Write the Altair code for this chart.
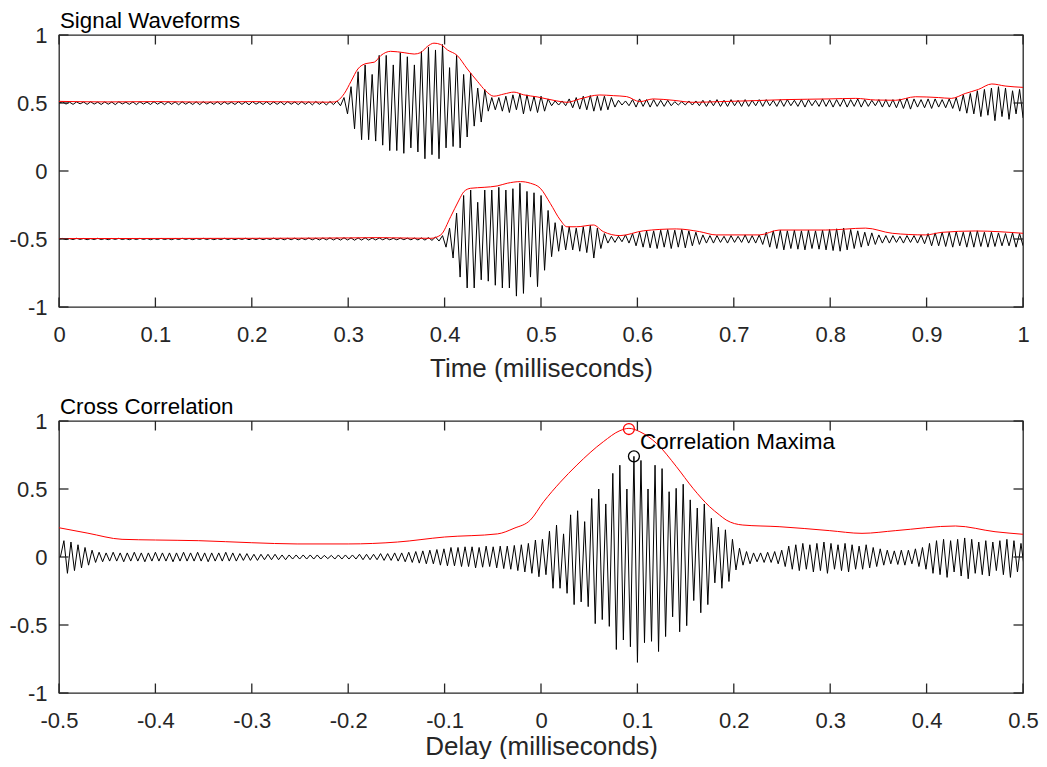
import altair as alt
import numpy as np
import pandas as pd

FONT = "Liberation Sans, Arial, Helvetica, sans-serif"
AX = "#262626"
HALF = 0.00365          # half period of the carrier (ms) = spacing of the listed extremes
CC_START = -0.49855     # delay of the first listed cross-correlation extreme
W, HT = 964, 272
TL = 9.5

# ---------------- Signal 1 (baseline 0.5), extremes in hundredths ----------------
s1_quiet = [0, 0.8, -0.8, 0.6, -1.0, 0.8, -0.6, 0.7, -1.0, 0.9, -0.8,
            0.6, -1.1, 0.8, -0.9, 0.7, -1.2, 0.9, -0.7, 0.6, -1.0,
            0.8, -1.2, 0.9, -0.8, 0.7, -1.1, 1.0, -0.9, 0.7, -1.2,
            0.9, -1.0, 0.8, -1.3, 0.9, -0.9, 0.7, -1.1, 0.9, -1.2,
            1.0, -0.8, 0.7, -1.0, 0.9, -1.2, 0.8, -0.9, 0.6, -1.1,
            0.9, -1.0, 0.8, -1.3, 1.0, -0.9, 0.7, -1.1, 0.9, -1.2,
            0.8, -1.0, 0.9, -1.3, 1.0, -0.9, 0.8, -1.2, 1.0, -1.0,
            0.9, -1.4, 1.1, -1.0, 0.9, -1.5, 1.2, -1.2, 1.5, -2.0, 4.0]
s1_burst = [-8, 12, -19, 23, -27, 28, -27, 21, -28, 35,
            -31, 35, -35, 28, -35, 37, -37, 34, -33, 28,
            -36, 38, -41, 41, -38, 39, -41, 43, -33, 26,
            -32, 35, -33, 21, -25, 22, -17, 11, -14, 10,
            -6, 4]
s1_tail = [-5, 4, -6, 5, -7, 6, -5, 7, -8, 6,
           -6, 5, -7, 5, -6, 3, -2, 1.5, -1.5, 1.5,
           -2, 3, -3.5, 4, -4.5, 5, -5, 5.5, -6, 5,
           -5.5, 5, -5, 4, -3, 2, -1.5, 1.5, -2, 2.5,
           -3, 3, -2.5, 2.5, -3, 2.5, -2.5, 2, -2.5, 2,
           -2, 1, -1.5, 1, -1.5, 1.5, -1.5, 1.5, -2, 2,
           -2.5, 2, -2, 2.5, -2.5, 2, -2.5, 2.5, -2, 2,
           -2.5, 2.5, -2.5, 2, -2, 2.5, -2.5, 2.5, -2, 2,
           -2.5, 2.5, -2.5, 2.5, -2, 2, -2.5, 2.5, -3, 2.5,
           -2, 2, -2.5, 3, -2.5, 2.5, -3, 2.5, -2.5, 3,
           -3, 2.5, -2.5, 3, -3, 2.5, -2.5, 2, -2, 2.5,
           -3, 2.5, -3, 2.5, -3.5, 3, -4, 3.5, -4.5, 3,
           -3, 2.5, -3.5, 3, -4, 3, -3, 2.5, -3.5, 3,
           -4, 4, -6, 6, -7.5, 7, -8, 9, -10, 10,
           -9, 11, -13, 12, -10, 11, -12, 9, -8, 10,
           -11]

# ---------------- Signal 2 (baseline -0.5), extremes in hundredths ----------------
s2_quiet = [0, 0.4, -0.5, 0.3, -0.4, 0.5, -0.3, 0.4, -0.5, 0.3,
            -0.4, 0.5, -0.4, 0.3, -0.5, 0.4, -0.3, 0.5, -0.4, 0.3,
            -0.5, 0.4, -0.4, 0.5, -0.3, 0.4, -0.5, 0.3, -0.4, 0.5,
            -0.4, 0.3, -0.5, 0.4, -0.4, 0.5, -0.3, 0.4, -0.5, 0.4,
            -0.3, 0.5, -0.4, 0.4, -0.5, 0.3, -0.4, 0.5, -0.4, 0.4,
            -0.5, 0.4, -0.3, 0.5, -0.5, 0.4, -0.4, 0.5, -0.5, 0.4,
            -0.4, 0.6, -0.5, 0.5, -0.6, 0.5, -0.5, 0.6, -0.6, 0.5,
            -0.5, 0.7, -0.6, 0.6, -0.7, 0.7, -0.6, 0.8, -0.7, 0.7,
            -0.8, 0.9, -0.7, 0.8, -0.9, 0.8, -0.8, 0.9, -0.8, 0.7,
            -0.7, 0.8, -0.6, 0.7, -0.6, 0.5, -0.6, 0.6, -0.5, 0.6,
            -0.6, 0.7, -0.7, 0.8, -0.8, 1.0, -1.0, 1.5, -1.5, 2.5]
s2_burst = [-6, 8, -14, 19, -28, 32, -36, 36, -36, 27,
            -30, 36, -31, 36, -34, 38, -36, 36, -36, 37,
            -42, 41, -40, 35, -28, 34, -35, 32, -23, 21,
            -13, 12, -9, 10, -8, 9, -8]
s2_tail = [8, -9, 9, -10, 10, -14, 8, -7, 4, -3,
           2, -2.5, 2, -2, 3, -3, 4, -5, 5, -6,
           6, -6.5, 6, -7, 6.5, -6, 7, -7, 6.5, -6,
           7, -6.5, 6, -5, 5, -4, 3, -3, 2.5, -3,
           2.5, -2.5, 2, -3, 2.5, -2.5, 2, -2.5, 3, -3,
           2.5, -3, 3, -4, 5, -6, 6, -7, 6.5, -8,
           6, -7, 6.5, -7.5, 6, -8, 6.5, -7, 6, -7.5,
           6.5, -8, 7, -8.5, 7.5, -9, 8, -8, 7, -7,
           6, -6, 5, -5, 4.5, -4, 3, -3, 2.5, -3,
           2.5, -2.5, 2, -3, 2.5, -2.5, 2.5, -3, 3, -3.5,
           4, -5, 4.5, -5, 5, -5.5, 5, -6, 5.5, -5,
           5, -6, 5.5, -6, 6, -5.5, 5, -6, 5, -5.5,
           4.5, -5, 4, -5, 4.5, -6, 4, -5]

# ---------------- Cross correlation, extremes in hundredths ----------------
cc_left = [0, 12, -12, 11, -10, 9, -8, 7, -6, 5,
           -4, 3.5, -3.5, 3, -3, 3.5, -3, 3, -3.5, 3,
           -3, 3.5, -3, 3, -3.5, 3, -3, 3.5, -3, 3,
           -3, 3, -3.5, 3, -3, 3.5, -3, 3, -3, 3.5,
           -3, 3, -3.5, 3, -3, 3, -3, 3.5, -3, 3,
           -3, 2.5, -2.5, 2.5, -2.5, 2, -2.5, 2, -2, 2,
           -2, 2, -2, 1.5, -2, 1.5, -1.5, 1.5, -1.5, 1.5,
           -1.5, 1.5, -1.5, 1.5, -1.5, 1.2, -1.2, 1.2, -1.5, 1.5,
           -1.5, 1.5, -1.5, 1.5, -1.5, 2, -2, 2, -2, 2,
           -2, 2.5, -2.5, 2.5, -2.5, 3, -3, 3, -3.5, 3.5,
           -4, 4, -4.5, 4.5, -5, 5, -5, 5.5, -6, 6,
           -6.5, 7, -6.5, 7, -7, 7.5, -7, 7.5, -8, 7,
           -7.5, 8, -7, 7.5, -8, 8, -8.5, 8, -9, 8.5,
           -10, 9, -11, 10, -12]
cc_burst = [12.5, -14.5, 13, -13, 19, -23, 23.5, -23, 17, -26.7,
            31, -35, 34, -33, 26, -36.5, 43, -49, 50, -46,
            39, -51, 61.5, -68, 67.5, -61, 50, -66, 74, -77.5,
            71, -63, 50, -62, 67.5, -69.5, 65, -58.5, 48, -44,
            50.5, -55, 53.5, -50.5, 42, -32, 36, -41, 39, -35,
            28.5, -19, 22, -23, 20, -18, 13, -9.5, 6.5]
cc_tail = [-6, 4, -5, 3, -3.5, 3, -4, 3.5, -4, 4,
           -5, 5, -7, 8, -9, 9, -10, 10, -9, 9,
           -11, 10, -10, 11, -12, 10, -9, 9, -10, 10,
           -11, 9, -9, 8, -9, 9, -8, 7, -7, 6,
           -6, 5, -5, 4.5, -5.5, 5, -6, 5, -5, 6,
           -7, 7, -9, 10, -12, 12, -13, 13, -15, 12,
           -11, 13, -14, 14, -16, 13, -12, 11, -13, 12,
           -14, 11, -10, 12, -13, 13, -15, 12, -11, 10,
           -9]

# ---------------- Envelopes ----------------
env1_t = [0, 0.05, 0.1, 0.15, 0.2, 0.25, 0.28, 0.286, 0.296, 0.303, 0.31, 0.3185, 0.327, 0.334,
          0.344, 0.358, 0.3685, 0.375, 0.382, 0.389, 0.396, 0.403, 0.413, 0.4236, 0.434, 0.4425,
          0.451, 0.4615, 0.472, 0.482, 0.496, 0.5165, 0.527, 0.5403, 0.5609, 0.575, 0.5888,
          0.6026, 0.6164, 0.637, 0.6577, 0.6852, 0.7197, 0.7541, 0.7989, 0.8264, 0.847, 0.8678,
          0.8884, 0.9122, 0.9256, 0.9401, 0.9538, 0.9676, 0.9814, 1.0]
env1_v = [0.512, 0.508, 0.51, 0.507, 0.51, 0.508, 0.506, 0.508, 0.57, 0.66, 0.75, 0.79, 0.80, 0.85,
          0.88, 0.87, 0.86, 0.87, 0.915, 0.94, 0.93, 0.89, 0.85, 0.75, 0.66, 0.59,
          0.55, 0.566, 0.58, 0.56, 0.545, 0.515, 0.505, 0.53, 0.559, 0.554, 0.547,
          0.51, 0.53, 0.52, 0.505, 0.51, 0.517, 0.525, 0.53, 0.534, 0.522, 0.52,
          0.546, 0.54, 0.534, 0.57, 0.60, 0.64, 0.625, 0.615]
env2_t = [0, 0.1, 0.2, 0.3, 0.33, 0.36, 0.3857, 0.396, 0.4063, 0.415, 0.42, 0.427, 0.441, 0.4545,
          0.465, 0.4787, 0.489, 0.4993, 0.5096, 0.52, 0.5269, 0.537, 0.5544, 0.5647, 0.582,
          0.6061, 0.6405, 0.6646, 0.6818, 0.7266, 0.7472, 0.7955, 0.8368, 0.8644, 0.8988,
          0.916, 0.9504, 1.0]
env2_v = [-0.497, -0.496, -0.495, -0.492, -0.49, -0.493, -0.495, -0.47, -0.336, -0.213, -0.152,
          -0.127, -0.12, -0.11, -0.09, -0.078, -0.09, -0.127, -0.238, -0.36, -0.41, -0.41,
          -0.397, -0.446, -0.475, -0.44, -0.426, -0.446, -0.47, -0.47, -0.434, -0.434, -0.42,
          -0.458, -0.47, -0.451, -0.441, -0.458]
envc_d = [-0.5, -0.47, -0.4346, -0.4, -0.355, -0.3, -0.253, -0.2, -0.149, -0.1, -0.045, -0.028,
          -0.011, 0.0028, 0.02, 0.0372, 0.0647, 0.0819, 0.0912, 0.1026, 0.1198, 0.1405, 0.1577,
          0.1749, 0.185, 0.1921, 0.2094, 0.247, 0.299, 0.333, 0.368, 0.43, 0.471, 0.5]
envc_v = [0.215, 0.175, 0.13, 0.125, 0.12, 0.105, 0.096, 0.096, 0.11, 0.147, 0.17, 0.211,
          0.272, 0.407, 0.55, 0.676, 0.848, 0.929, 0.946, 0.921, 0.836, 0.664, 0.505,
          0.37, 0.31, 0.272, 0.235, 0.223, 0.194, 0.174, 0.194, 0.228, 0.186, 0.167]

# maxima markers
max_env_d, max_env_v = [0.0912], [0.941]
max_cc_d, max_cc_v = [0.0964], [0.74]

top_xticks = [0, 0.1, 0.2, 0.3, 0.4, 0.5, 0.6, 0.7, 0.8, 0.9, 1]
bot_xticks = [-0.5, -0.4, -0.3, -0.2, -0.1, 0, 0.1, 0.2, 0.3, 0.4, 0.5]
y_ticks = [-1, -0.5, 0, 0.5, 1]

# ---------------- assemble tables ----------------
s1 = s1_quiet + s1_burst + s1_tail
s2 = s2_quiet + s2_burst + s2_tail
cc = cc_left + cc_burst + cc_tail
assert len(s1) == 275 and len(s2) == 275 and len(cc) == 275, (len(s1), len(s2), len(cc))
idx = np.arange(275)

wave = pd.concat([
    pd.DataFrame({"t": idx * HALF, "v": 0.5 + np.array(s1) / 100.0, "sig": "a"}),
    pd.DataFrame({"t": idx * HALF, "v": -0.5 + np.array(s2) / 100.0, "sig": "b"}),
])
env = pd.concat([
    pd.DataFrame({"t": env1_t, "v": env1_v, "sig": "a"}),
    pd.DataFrame({"t": env2_t, "v": env2_v, "sig": "b"}),
])
ccdf = pd.DataFrame({"t": CC_START + idx * HALF, "v": np.array(cc) / 100.0, "sig": "c"})
ccenv = pd.DataFrame({"t": envc_d, "v": envc_v, "sig": "c"})


def xenc(field, domain, ticks, title, tpad):
    return alt.X(f"{field}:Q", scale=alt.Scale(domain=domain, nice=False, zero=False),
                 axis=alt.Axis(values=ticks, labelExpr="'' + datum.value", title=title,
                               titlePadding=tpad))


def yenc(field):
    return alt.Y(f"{field}:Q", scale=alt.Scale(domain=[-1, 1], nice=False, zero=False),
                 axis=alt.Axis(values=y_ticks, labelExpr="'' + datum.value", title=None))


def panel(wave_df, env_df, domain, xticks, xtitle, tpad, title, extra):
    X = lambda f: xenc(f, domain, xticks, xtitle, tpad)
    wl = alt.Chart(wave_df).mark_line(color="black", strokeWidth=1, clip=True).encode(
        x=X("t"), y=yenc("v"), detail="sig:N")
    el = alt.Chart(env_df).mark_line(color="#FF0000", strokeWidth=1, clip=True,
                                     interpolate="monotone").encode(
        x=X("t"), y=yenc("v"), detail="sig:N")
    xt = pd.DataFrame({"tick": xticks})
    yt = pd.DataFrame({"tick": y_ticks})
    rule = dict(color=AX, strokeWidth=1.3)
    tb = alt.Chart(xt).mark_rule(**rule).encode(
        x=X("tick"), y=alt.value(HT), y2=alt.value(HT - TL))
    tt = alt.Chart(xt).mark_rule(**rule).encode(
        x=X("tick"), y=alt.value(0), y2=alt.value(TL))
    tl = alt.Chart(yt).mark_rule(**rule).encode(
        y=yenc("tick"), x=alt.value(0), x2=alt.value(TL))
    tr = alt.Chart(yt).mark_rule(**rule).encode(
        y=yenc("tick"), x=alt.value(W), x2=alt.value(W - TL))
    ttl = alt.Chart(pd.DataFrame({"s": [title]})).mark_text(
        align="left", baseline="alphabetic", font=FONT, fontSize=22.3, color="black").encode(
        text="s:N", x=alt.value(1), y=alt.value(-7))
    return alt.layer(wl, el, *extra(X), tb, tt, tl, tr, ttl).properties(width=W, height=HT)


def no_extra(X):
    return []


def cc_extra(X):
    red = alt.Chart(pd.DataFrame({"t": max_env_d, "v": max_env_v})).mark_point(
        shape="circle", filled=False, size=120, strokeWidth=1.3, color="#FF0000", opacity=1).encode(
        x=X("t"), y=yenc("v"))
    blk = alt.Chart(pd.DataFrame({"t": max_cc_d, "v": max_cc_v})).mark_point(
        shape="circle", filled=False, size=120, strokeWidth=1.3, color="black", opacity=1).encode(
        x=X("t"), y=yenc("v"))
    lab = alt.Chart(pd.DataFrame({"t": max_cc_d, "v": max_cc_v, "s": ["Correlation Maxima"]})).mark_text(
        align="left", baseline="middle", dx=6, dy=-14, font=FONT, fontSize=22.5, color="black").encode(
        x=X("t"), y=yenc("v"), text="s:N")
    return [red, blk, lab]


top = panel(wave, env, [0, 1], top_xticks, "Time (milliseconds)", 10, "Signal Waveforms", no_extra)
bottom = panel(ccdf, ccenv, [-0.5, 0.5], bot_xticks, "Delay (milliseconds)", 2,
               "Cross Correlation", cc_extra)

# fixed canvas: the layout sits at (51, 27) inside an svg of 1031 x 751
chart = alt.vconcat(top, bottom, spacing=114, bounds="flush").properties(
    autosize=alt.AutoSizeParams(type="none"),
    padding={"left": 51, "top": 27, "right": 16, "bottom": 724}
).configure_view(stroke=AX, strokeWidth=1.3).configure_axis(
    domain=False, ticks=False, tickSize=0, grid=False, labelFlush=False,
    labelFont=FONT, labelFontSize=22, labelColor=AX,
    titleFont=FONT, titleFontSize=26, titleColor=AX, titleFontWeight="normal"
).configure_axisX(labelPadding=17).configure_axisY(labelPadding=12)

chart.save("out.html", embed_options={"renderer": "svg", "actions": False})
